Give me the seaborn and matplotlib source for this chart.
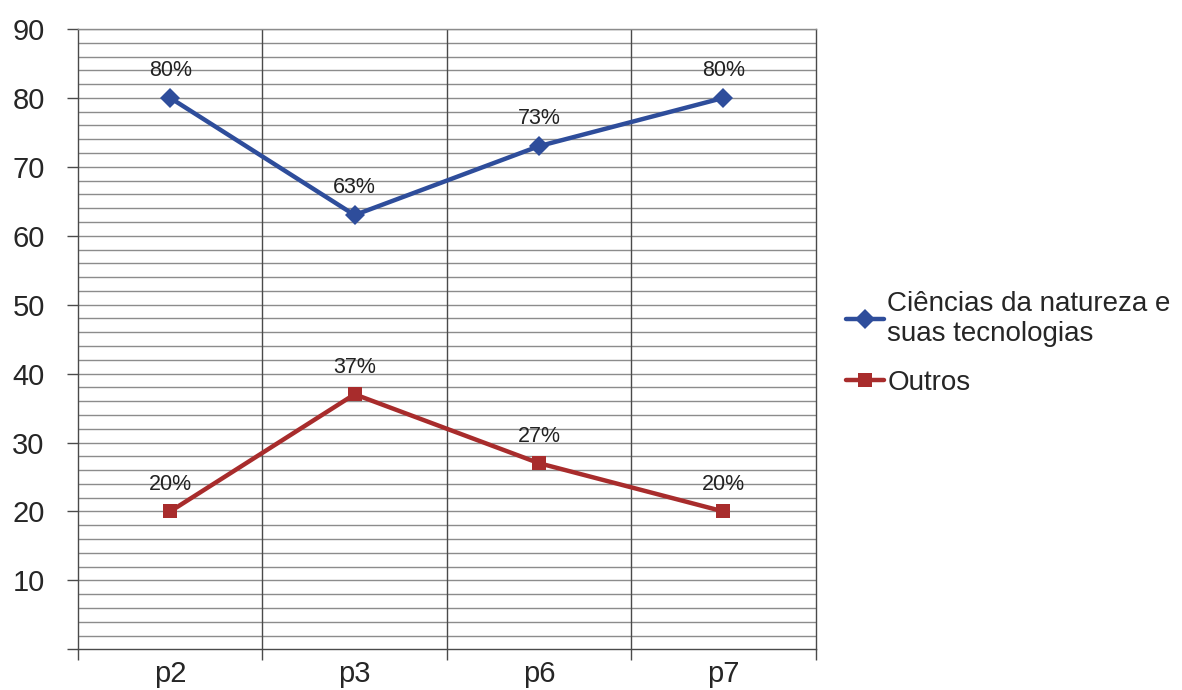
import matplotlib
matplotlib.use("Agg")
import matplotlib.pyplot as plt
import seaborn as sns
import pandas as pd

categories = ["p2", "p3", "p6", "p7"]
ciencias = [80, 63, 73, 80]
outros = [20, 37, 27, 20]
series_names = ["Ciências da natureza e\nsuas tecnologias", "Outros"]

df = pd.DataFrame({
    "pergunta": categories * 2,
    "valor": ciencias + outros,
    "serie": [series_names[0]] * 4 + [series_names[1]] * 4,
})

sns.set_style("white")
plt.rcParams["font.family"] = ["Liberation Sans", "DejaVu Sans"]

fig = plt.figure(figsize=(11.82, 6.9), dpi=100)
ax = fig.add_axes([0.066, 0.059, 0.624, 0.899])

palette = {series_names[0]: "#2E4D9B", series_names[1]: "#A82C2C"}
markers = {series_names[0]: "D", series_names[1]: "s"}

sns.lineplot(data=df, x="pergunta", y="valor", hue="serie", style="serie",
             palette=palette, markers=markers, dashes=False, linewidth=3.2,
             markersize=10, markeredgewidth=0, ax=ax, sort=False)

for vals in (ciencias, outros):
    for i, v in enumerate(vals):
        ax.annotate(f"{v}%", (i, v), xytext=(0, 12), textcoords="offset points",
                    ha="center", va="bottom", fontsize=15.5, color="#222222")

ax.set_xlim(-0.5, 3.5)
ax.set_ylim(0, 90)

# horizontal grid every 2 units
for y in range(2, 91, 2):
    ax.axhline(y, color="#8c8c8c", lw=1.0, zorder=0)
for xb in [0.5, 1.5, 2.5]:
    ax.axvline(xb, color="#4a4a4a", lw=1.0, zorder=0)

ax.set_yticks(range(0, 91, 10))
ax.set_yticklabels([""] + [str(t) for t in range(10, 91, 10)])
ax.set_xticks(range(len(categories)))
ax.set_xticklabels(categories)
ax.set_xticks([-0.5, 0.5, 1.5, 2.5, 3.5], minor=True)
ax.tick_params(axis="x", which="major", bottom=True, length=0, labelsize=21,
               pad=8)
ax.tick_params(axis="x", which="minor", bottom=True, length=8, width=1,
               color="#4a4a4a", direction="out")
ax.tick_params(axis="y", left=True, length=8, width=1, color="#4a4a4a",
               direction="out", labelsize=21, pad=16)
ax.set_xlabel("")
ax.set_ylabel("")

for side in ["left", "bottom", "right", "top"]:
    ax.spines[side].set_color("#4a4a4a")
    ax.spines[side].set_linewidth(1.0)
ax.spines["top"].set_color("#8c8c8c")

handles, labels = ax.get_legend_handles_labels()
ax.legend(handles, labels, loc="upper left", bbox_to_anchor=(0.706, 0.595),
          bbox_transform=fig.transFigure, frameon=False, fontsize=20,
          handlelength=1.4, handletextpad=0.1, labelspacing=0.85,
          borderaxespad=0)

fig.savefig("out.png", dpi=100)
